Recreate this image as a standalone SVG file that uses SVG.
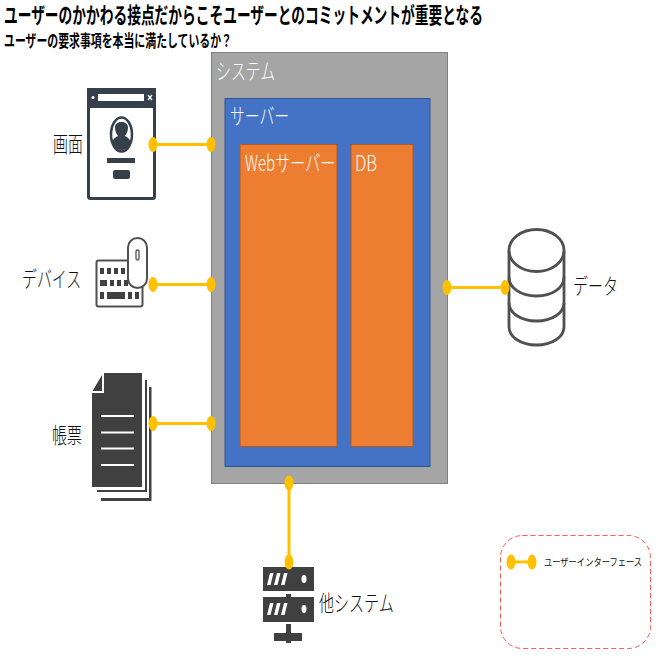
<svg xmlns="http://www.w3.org/2000/svg" width="660" height="660" viewBox="0 0 660 660">
<style>
text{font-family:"Noto Sans CJK JP","Liberation Sans",sans-serif}
.t{font-weight:700;fill:#000}
.w{fill:#fff;font-weight:300;font-size:22px}
.k{fill:#111;font-weight:300;font-size:22px}
.c{stroke:#ffc000;stroke-width:3;fill:none}
.d{fill:#ffc000}
.i{fill:#404040}
.s{fill:none;stroke:#505050;stroke-width:2.800}
</style>
<rect width="660" height="660" fill="#fff"/>
<text class="t" style="font-family:'Liberation Sans','Noto Sans CJK JP',sans-serif" transform="translate(4,23) scale(.622,1)" font-size="22" textLength="770" lengthAdjust="spacingAndGlyphs">ユーザーのかかわる接点だからこそユーザーとのコミットメントが重要となる</text>
<text class="t" transform="translate(4,46.500) scale(.658,1)" font-size="16.500" textLength="346.500" lengthAdjust="spacingAndGlyphs">ユーザーの要求事項を本当に満たしているか？</text>
<g id="system">
<rect x="211.500" y="52.500" width="236" height="431" fill="#a5a5a5" stroke="#7f7f7f"/>
<text class="w" transform="translate(216,79) scale(.65,1)" textLength="91" lengthAdjust="spacingAndGlyphs">システム</text>
</g>
<g id="server">
<rect x="225" y="98.500" width="205" height="368" fill="#4472c4" stroke="#2f5597"/>
<text class="w" transform="translate(230,124) scale(.65,1)" textLength="91" lengthAdjust="spacingAndGlyphs">サーバー</text>
</g>
<g id="web">
<rect x="240" y="144.500" width="97" height="302" fill="#ed7d31" stroke="#ae5a21"/>
<text class="w" transform="translate(245,171) scale(.65,1)" textLength="139" lengthAdjust="spacingAndGlyphs">Webサーバー</text>
</g>
<g id="db">
<rect x="351" y="144.500" width="62" height="302" fill="#ed7d31" stroke="#ae5a21"/>
<text class="w" transform="translate(355,171) scale(.65,1)" textLength="34" lengthAdjust="spacingAndGlyphs">DB</text>
</g>
<g id="screen">
<rect x="88.500" y="89.500" width="66" height="109" rx="2" fill="#fff" stroke="#36404a" stroke-width="3"/>
<rect x="87" y="88" width="69" height="20" fill="#36404a"/>
<rect x="98" y="94" width="46" height="7" fill="#fff"/>
<circle cx="93" cy="97.500" r="1.500" fill="#fff"/>
<path d="M148 95l4 5m0-5l-4 5" stroke="#fff" stroke-width="1.300"/>
<ellipse cx="121.500" cy="134.500" rx="10.500" ry="17" fill="#fff" stroke="#36404a" stroke-width="2.500"/>
<path d="M112 144c1-6 4-7 6-8-2-3-3-5-3-9 0-3 3-5 6.500-5s6.500 2 6.500 5c0 4-1 6-3 9 2 1 5 2 6 8-3 4-6 6-9.500 6s-6.500-2-9.500-6z" fill="#36404a"/>
<rect x="107" y="158" width="28" height="5" fill="#36404a"/>
<rect x="113" y="170" width="17" height="9" rx="2" fill="#36404a"/>
<text class="k" transform="translate(53,152) scale(.65,1)" textLength="46" lengthAdjust="spacingAndGlyphs">画面</text>
</g>
<g id="device">
<rect x="96.500" y="260.500" width="46" height="46" rx="2" fill="#fff" stroke="#505050" stroke-width="2"/>
<g class="i">
<rect x="100" y="268" width="4" height="6"/><rect x="107" y="268" width="4" height="6"/><rect x="114" y="268" width="4" height="6"/><rect x="121" y="268" width="4" height="6"/>
<rect x="100" y="280" width="7" height="6"/><rect x="110" y="280" width="4" height="6"/><rect x="117" y="280" width="4" height="6"/><rect x="124" y="280" width="4" height="6"/>
<rect x="100" y="292" width="4" height="7"/><rect x="107" y="292" width="18" height="7"/><rect x="128" y="292" width="4" height="7"/><rect x="135" y="292" width="4" height="7"/>
</g>
<rect x="128" y="238" width="19" height="50" rx="9.500" fill="#fff" stroke="#505050" stroke-width="2"/>
<rect x="136" y="250" width="3" height="10" rx="1.500" fill="none" stroke="#505050" stroke-width="1.300"/>
<text class="k" transform="translate(22,287) scale(.65,1)" textLength="91" lengthAdjust="spacingAndGlyphs">デバイス</text>
</g>
<g id="report">
<path d="M145 380h2v112H97v-2h48z" class="i"/>
<path d="M149 387h2.500v114H101v-3h48z" class="i"/>
<path d="M104 373h38v114H92V393h12z" class="i"/>
<path d="M102 375v16h-9.500z" class="i"/>
<path d="M101 416h33M101 432.500h33M101 448.500h33M101 465h33" stroke="#fff" stroke-width="2.200"/>
<text class="k" transform="translate(52,443) scale(.65,1)" textLength="46" lengthAdjust="spacingAndGlyphs">帳票</text>
</g>
<g id="data">
<path class="s" d="M509 251v76c0 10 12 18 27.500 18s27.500-8 27.500-18v-76"/>
<ellipse class="s" cx="536.500" cy="250.500" rx="27.500" ry="21"/>
<path class="s" d="M509 277c0 11 12 19 27.500 19s27.500-8 27.500-19"/>
<path class="s" d="M509 303c0 10 12 18 27.500 18s27.500-8 27.500-18"/>
<text class="k" transform="translate(573,294) scale(.65,1)" textLength="69" lengthAdjust="spacingAndGlyphs">データ</text>
</g>
<g id="other">
<g class="i">
<rect x="263" y="567" width="51" height="24"/>
<rect x="263" y="597" width="51" height="25"/>
<rect x="286" y="594" width="5" height="3"/>
<rect x="286" y="624" width="5" height="9"/>
<rect x="274" y="633" width="28" height="8"/>
<rect x="286" y="641" width="5" height="2"/>
</g>
<g fill="#fff">
<path d="M267 585l3-12h3.500l-3 12zM274 585l3-12h3.500l-3 12zM281 585l3-12h3.500l-3 12z"/>
<path d="M267 615l3-12h3.500l-3 12zM274 615l3-12h3.500l-3 12zM281 615l3-12h3.500l-3 12z"/>
<ellipse cx="304" cy="579" rx="2.500" ry="4"/>
<ellipse cx="304" cy="609" rx="2.500" ry="4"/>
</g>
<text class="k" transform="translate(319,611) scale(.65,1)" textLength="115" lengthAdjust="spacingAndGlyphs">他システム</text>
</g>
<g id="legend">
<rect x="500.500" y="535.500" width="150" height="113" rx="22" fill="none" stroke="#ff2020" stroke-dasharray="5 3" stroke-opacity=".75"/>
<text fill="#111" font-weight="400" transform="translate(544,566) scale(.817,1)" font-size="10" textLength="120" lengthAdjust="spacingAndGlyphs">ユーザーインターフェース</text>
</g>
<g id="connectors">
<g class="c">
<path d="M153 144.500H211"/>
<path d="M153 284.500H211"/>
<path d="M153 423.500H211"/>
<path d="M447 287.500H505"/>
<path d="M289 483V562"/>
<path d="M511 562H532"/>
</g>
<g class="d">
<ellipse cx="153" cy="144.500" rx="4.500" ry="7.500"/><ellipse cx="211" cy="144.500" rx="4.500" ry="7.500"/>
<ellipse cx="153" cy="284.500" rx="4.500" ry="7.500"/><ellipse cx="211" cy="284.500" rx="4.500" ry="7.500"/>
<ellipse cx="153" cy="423.500" rx="4.500" ry="7.500"/><ellipse cx="211" cy="423.500" rx="4.500" ry="7.500"/>
<ellipse cx="447" cy="287.500" rx="4.500" ry="7.500"/><ellipse cx="505" cy="287.500" rx="4.500" ry="7.500"/>
<ellipse cx="289" cy="483" rx="4.500" ry="7.500"/><ellipse cx="289" cy="562" rx="4.500" ry="7.500"/>
<ellipse cx="511" cy="562" rx="4.500" ry="7.500"/><ellipse cx="532" cy="562" rx="4.500" ry="7.500"/>
</g>
</g>
</svg>
